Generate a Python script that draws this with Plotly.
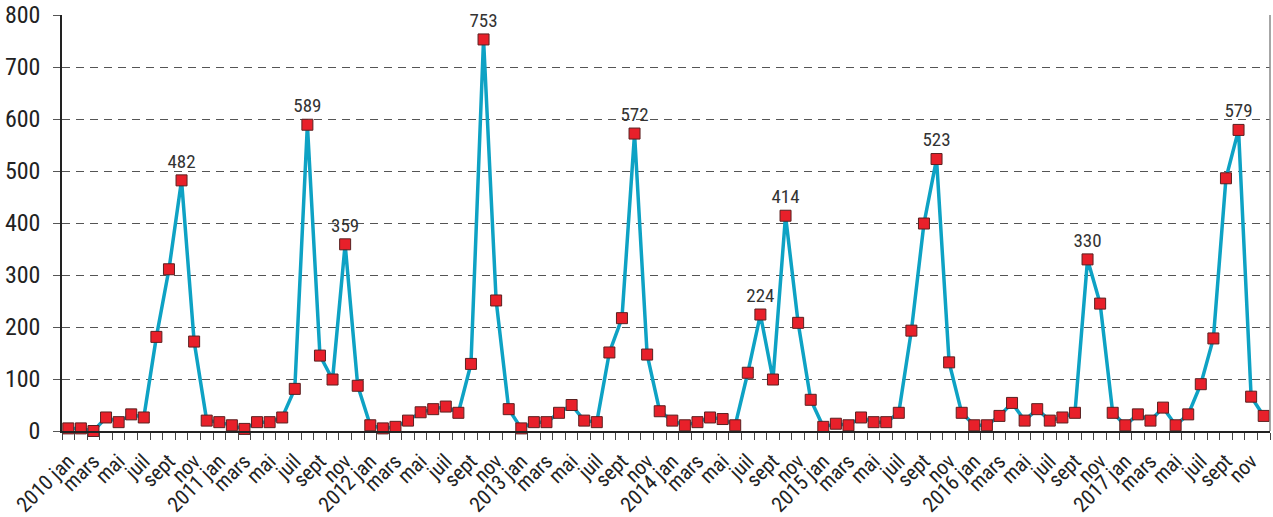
import plotly.graph_objects as go

years = [2010, 2011, 2012, 2013, 2014, 2015, 2016, 2017]
months = ["jan", "févr", "mars", "avr", "mai", "juin", "juil", "août", "sept", "oct", "nov", "déc"]

values = [
    # 2010
    5, 5, 0, 26, 17, 32, 26, 181, 311, 482, 172, 20,
    # 2011
    17, 11, 4, 17, 17, 26, 81, 589, 145, 99, 359, 87,
    # 2012
    11, 5, 8, 20, 36, 42, 47, 35, 129, 753, 251, 42,
    # 2013
    5, 17, 17, 35, 50, 20, 17, 151, 217, 572, 147, 38,
    # 2014
    20, 11, 17, 26, 23, 11, 112, 224, 99, 414, 208, 60,
    # 2015
    8, 14, 11, 26, 17, 17, 35, 193, 399, 523, 132, 35,
    # 2016
    11, 11, 29, 54, 20, 42, 20, 26, 35, 330, 245, 35,
    # 2017
    11, 32, 20, 45, 11, 32, 90, 178, 486, 579, 66, 29,
]

labelled = {"2010 oct", "2011 août", "2011 nov", "2012 oct", "2013 oct",
            "2014 août", "2014 oct", "2015 oct", "2016 oct", "2017 oct"}

keys = [f"{y} {m}" for y in years for m in months]
x = list(range(len(values)))
texts = [str(v) if k in labelled else "" for k, v in zip(keys, values)]

tickvals = [i for i in x if i % 2 == 0]
ticktext = [(f"{keys[i].split()[0]} jan" if i % 12 == 0 else keys[i].split()[1]) for i in tickvals]

FONT = "Liberation Sans Narrow, Roboto Condensed, Arial Narrow, Liberation Sans, sans-serif"

fig = go.Figure()
fig.add_trace(go.Scatter(
    x=x, y=values, mode="lines+markers+text",
    line=dict(color="#0ea2c4", width=3.5),
    marker=dict(symbol="square", size=11, color="#e8202a",
                line=dict(color="#5a2020", width=1)),
    text=texts, textposition="top center",
    textfont=dict(family=FONT, size=19, color="#333333"),
    cliponaxis=False, hoverinfo="x+y",
))

fig.update_layout(
    width=1273, height=517,
    margin=dict(l=62, r=3, t=15, b=86),
    plot_bgcolor="white", paper_bgcolor="white",
    showlegend=False,
    font=dict(family=FONT, size=21, color="#222222"),
)
fig.update_xaxes(
    automargin=False,
    range=[-0.5, len(values) - 0.5],
    tickmode="array", tickvals=tickvals, ticktext=ticktext,
    tickangle=-45, ticks="", ticklen=0,
    showgrid=False, zeroline=False,
    showline=True, linecolor="#222222", linewidth=1.5,
    tickfont=dict(family=FONT, size=21, color="#222222"),
    minor=dict(tickmode="array", tickvals=[i - 0.5 for i in x] + [len(values) - 0.5],
               ticks="outside", ticklen=7, tickcolor="#444444", tickwidth=1, showgrid=False),
    ticklabelstandoff=8,
)
fig.update_yaxes(
    automargin=False,
    range=[0, 800], tickvals=[0, 100, 200, 300, 400, 500, 600, 700, 800],
    showgrid=True, gridcolor="#555555", griddash="8px,6px", gridwidth=1,
    zeroline=False,
    showline=True, linecolor="#222222", linewidth=1.5,
    ticks="outside", ticklen=7, tickcolor="#555555",
    tickfont=dict(family=FONT, size=24, color="#222222"),
    ticklabelstandoff=8,
)
fig.add_shape(type="line", xref="paper", yref="paper", x0=1, x1=1, y0=0, y1=1,
              line=dict(color="#888888", width=1.5))

fig.write_html("out.html", config={"displayModeBar": False},
               post_script="document.body.style.margin='0';document.body.style.overflow='hidden';")
